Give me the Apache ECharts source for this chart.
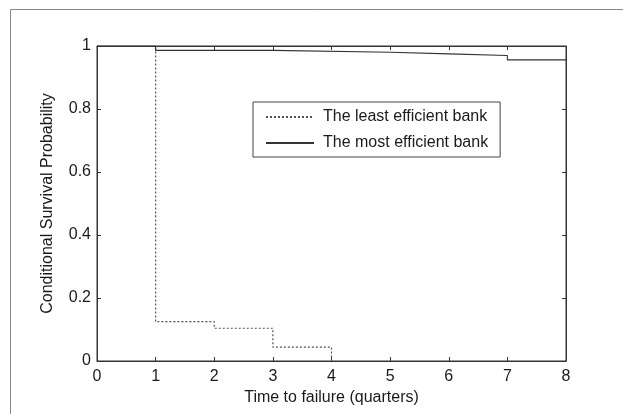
<!DOCTYPE html>
<html>
<head>
<meta charset="utf-8">
<script src="https://cdn.jsdelivr.net/npm/echarts@6/dist/echarts.min.js"></script>
<style>html,body{margin:0;padding:0;background:#fff;}#c{width:623px;height:414px;}</style>
</head>
<body>
<div id="c"></div>
<script>
// Data
const seriesNames = ['The least efficient bank', 'The most efficient bank'];
const leastTimes = [0, 1, 2, 3, 4];
const leastValues = [1.0, 0.125, 0.104, 0.044, 0.0];
const mostTimes = [0, 1, 3, 5, 6, 7, 8];
const mostValues = [1.0, 0.986, 0.980, 0.975, 0.970, 0.956, 0.956];
const xTicks = [0, 1, 2, 3, 4, 5, 6, 7, 8];
const yTicks = [0, 0.2, 0.4, 0.6, 0.8, 1];
const xTitle = 'Time to failure (quarters)';
const yTitle = 'Conditional Survival Probability';

const FONT = '"Liberation Sans", Arial, sans-serif';
const FS = 16;
const chart = echarts.init(document.getElementById('c'), null, {renderer: 'canvas'});
const pair = (xs, ys) => xs.map((x, i) => [x, ys[i]]);

const tickCommon = {show: true, inside: true, length: 4, lineStyle: {color: '#333', width: 1}};
chart.setOption({
  animation: false,
  backgroundColor: '#fff',
  graphic: [{
    type: 'rect', shape: {x: 10.5, y: 9.5, width: 700, height: 500},
    style: {fill: null, stroke: '#888', lineWidth: 1}, silent: true, z: -10
  }],
  grid: {left: 97, top: 46, right: 57, bottom: 53, containLabel: false,
    show: true, borderColor: '#333', borderWidth: 1, backgroundColor: 'transparent'},
  legend: {
    orient: 'vertical', left: 253, top: 102,
    data: seriesNames.map(n => ({name: n, itemStyle: {opacity: 0}})),
    itemWidth: 48, itemHeight: 12, itemGap: 10,
    padding: [7, 12, 6, 12],
    borderColor: '#444', borderWidth: 1, backgroundColor: '#fff',
    textStyle: {fontFamily: FONT, fontSize: FS, color: '#1a1a1a', padding: [0, 0, 0, 4]}
  },
  xAxis: [{
    type: 'value', min: 0, max: 8, interval: 1, position: 'bottom',
    axisLine: {show: true, lineStyle: {color: '#333', width: 1}},
    axisTick: tickCommon, splitLine: {show: false},
    axisLabel: {fontFamily: FONT, fontSize: FS, color: '#1a1a1a', margin: 8,
      formatter: v => xTicks.includes(v) ? String(v) : ''},
    name: xTitle, nameLocation: 'middle', nameGap: 28,
    nameTextStyle: {fontFamily: FONT, fontSize: FS, color: '#1a1a1a'}
  }, {
    type: 'value', min: 0, max: 8, interval: 1, position: 'top',
    axisLine: {show: true, onZero: false, lineStyle: {color: '#333', width: 1}},
    axisTick: tickCommon, axisLabel: {show: false}, splitLine: {show: false}
  }],
  yAxis: [{
    type: 'value', min: 0, max: 1, interval: 0.2, position: 'left',
    axisLine: {show: true, lineStyle: {color: '#333', width: 1}},
    axisTick: tickCommon, splitLine: {show: false},
    axisLabel: {fontFamily: FONT, fontSize: FS, color: '#1a1a1a', margin: 6,
      formatter: v => { const t = yTicks.find(y => Math.abs(y - v) < 1e-9); return t === undefined ? '' : String(t); }},
    name: yTitle, nameLocation: 'middle', nameGap: 41, nameRotate: 90,
    nameTextStyle: {fontFamily: FONT, fontSize: FS, color: '#1a1a1a'}
  }, {
    type: 'value', min: 0, max: 1, interval: 0.2, position: 'right',
    axisLine: {show: true, onZero: false, lineStyle: {color: '#333', width: 1}},
    axisTick: tickCommon, axisLabel: {show: false}, splitLine: {show: false}
  }],
  series: [{
    name: seriesNames[0], type: 'line', step: 'end',
    xAxisIndex: 0, yAxisIndex: 0,
    data: pair(leastTimes, leastValues),
    symbol: 'none', showSymbol: false,
    lineStyle: {color: '#555', width: 1.2, type: [2, 2]},
    itemStyle: {color: '#555'}, z: 3
  }, {
    name: seriesNames[1], type: 'line', step: 'end',
    xAxisIndex: 0, yAxisIndex: 0,
    data: pair(mostTimes, mostValues),
    symbol: 'none', showSymbol: false,
    lineStyle: {color: '#333', width: 1.1, type: 'solid'},
    itemStyle: {color: '#333'}, z: 4
  }, {
    name: '_axes', type: 'line', xAxisIndex: 1, yAxisIndex: 1,
    data: [], symbol: 'none', silent: true
  }]
});
</script>
</body>
</html>
